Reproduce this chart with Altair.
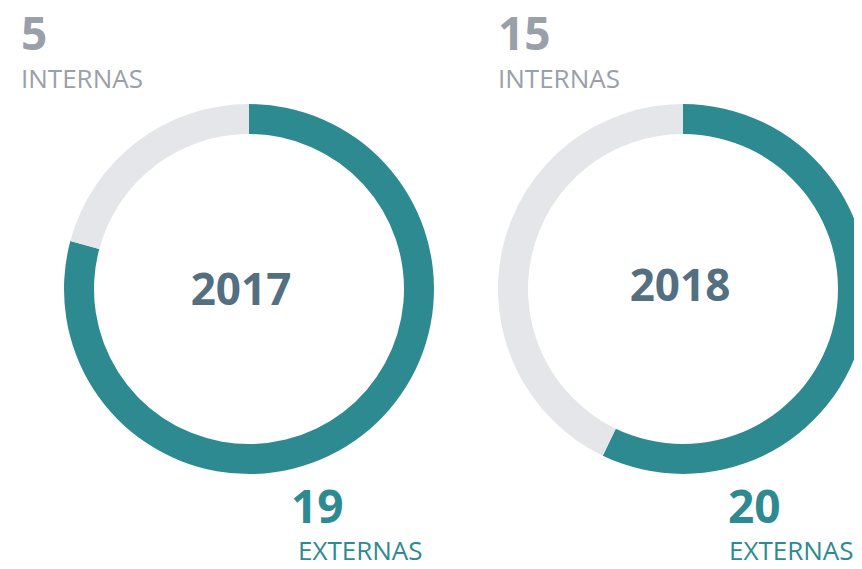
import altair as alt
import pandas as pd

years = ["2017", "2018"]
externas = [19, 20]
internas = [5, 15]

TEAL = "#2E8A91"
RING_GRAY = "#E5E6EA"
TEXT_GRAY = "#9AA0A9"
YEAR_COLOR = "#546F7F"
FONT = "Open Sans"

rows = []
for y, e, i in zip(years, externas, internas):
    rows.append({"year": y, "tipo": "EXTERNAS", "value": e, "ord": 0})
    rows.append({"year": y, "tipo": "INTERNAS", "value": i, "ord": 1})
df = pd.DataFrame(rows)

W, H = 846, 553
centers = {"2017": 241, "2018": 675}
cy = 281

color = alt.Color("tipo:N", scale=alt.Scale(domain=["EXTERNAS", "INTERNAS"], range=[TEAL, RING_GRAY]), legend=None)

layers = []
lay = {
    "2017": dict(int_x=13, ext_num_x=283, ext_lab_x=290, year_x=233, year_y=297),
    "2018": dict(int_x=490, ext_num_x=720, ext_lab_x=721, year_x=672, year_y=293),
}
for y in years:
    d = df[df.year == y]
    arc = alt.Chart(d).mark_arc(outerRadius=185, innerRadius=155, clip=True).encode(
        theta=alt.Theta("value:Q", stack="normalize"),
        color=color,
        order=alt.Order("ord:Q"),
        x=alt.value(centers[y]),
        y=alt.value(cy),
    )
    layers.append(arc)
    L = lay[y]
    ints = d[d.tipo == "INTERNAS"]
    exts = d[d.tipo == "EXTERNAS"]
    base_t = dict(align="left", baseline="alphabetic", font=FONT)
    layers.append(alt.Chart(ints).mark_text(fontSize=46, fontWeight="bold", color=TEXT_GRAY, **base_t).encode(
        text="value:Q", x=alt.value(L["int_x"]), y=alt.value(42)))
    layers.append(alt.Chart(ints).mark_text(fontSize=26, fontWeight=400, color=TEXT_GRAY, **base_t).encode(
        text="tipo:N", x=alt.value(L["int_x"]), y=alt.value(80)))
    layers.append(alt.Chart(exts).mark_text(fontSize=46, fontWeight="bold", color=TEAL, **base_t).encode(
        text="value:Q", x=alt.value(L["ext_num_x"]), y=alt.value(515)))
    layers.append(alt.Chart(exts).mark_text(fontSize=26, fontWeight=400, color=TEAL, **base_t).encode(
        text="tipo:N", x=alt.value(L["ext_lab_x"]), y=alt.value(552)))
    layers.append(alt.Chart(d.head(1)).mark_text(fontSize=44, fontWeight="bold", color=YEAR_COLOR, align="center", baseline="alphabetic", font=FONT).encode(
        text="year:N", x=alt.value(L["year_x"]), y=alt.value(L["year_y"])))

chart = alt.layer(*layers).resolve_scale(theta="independent").properties(
    width=W, height=H, padding=0, autosize=alt.AutoSizeParams(type="none")
).configure_view(stroke=None)

chart.save("out.html", embed_options={"renderer": "svg", "actions": False})
